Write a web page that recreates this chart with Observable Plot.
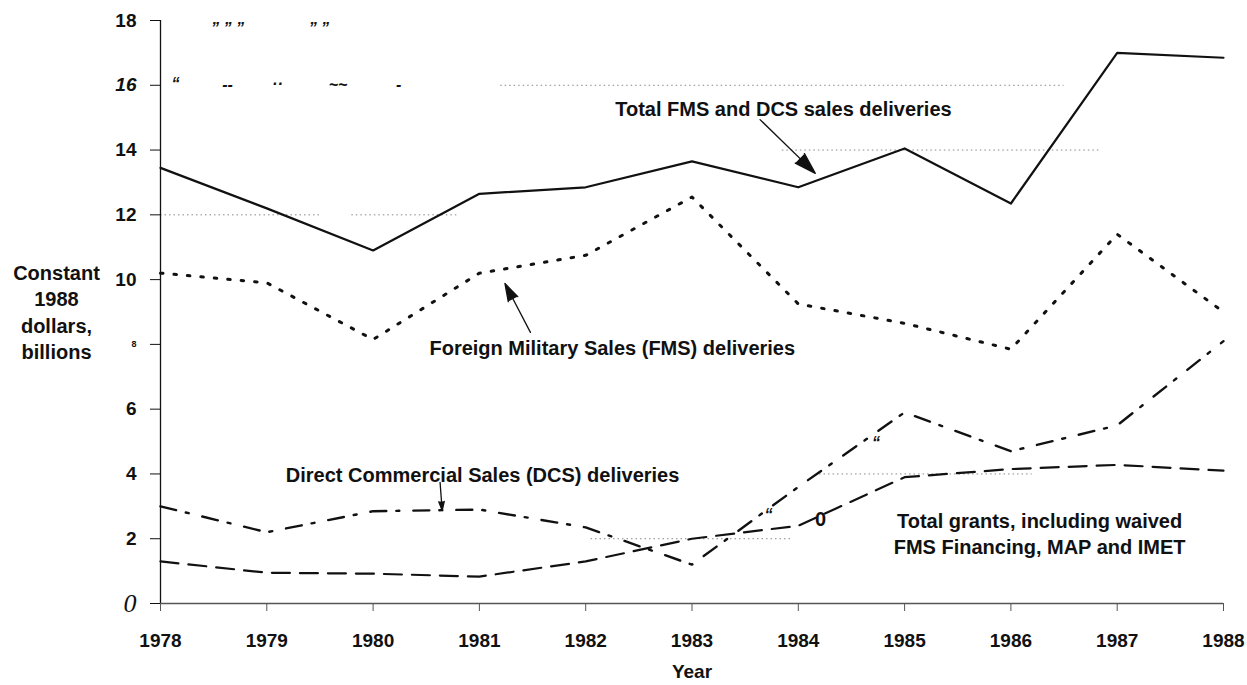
<!DOCTYPE html>
<html><head><meta charset="utf-8">
<script src="https://cdn.jsdelivr.net/npm/d3@7"></script>
<script src="https://cdn.jsdelivr.net/npm/@observablehq/plot@0.6"></script>
<style>
body{margin:0;background:#fff;}
#chart svg{display:block;}
</style></head><body><div id="chart"></div>
<script>
// ---- data (constant 1988 dollars, billions) ----
const years = [1978, 1979, 1980, 1981, 1982, 1983, 1984, 1985, 1986, 1987, 1988];
const totalSales    = [13.45, 12.2, 10.9, 12.65, 12.85, 13.65, 12.85, 14.05, 12.35, 17.0, 16.85];
const fmsDeliveries = [10.2, 9.9, 8.15, 10.2, 10.75, 12.55, 9.25, 8.65, 7.85, 11.4, 9.0];
const dcsDeliveries = [3.0, 2.2, 2.85, 2.9, 2.35, 1.2, 3.6, 5.9, 4.7, 5.5, 8.1];
const totalGrants   = [1.3, 0.95, 0.92, 0.83, 1.3, 2.0, 2.4, 3.9, 4.15, 4.28, 4.1];
const yTicks = [0, 2, 4, 6, 8, 10, 12, 14, 16, 18];

// partial dotted grid lines as seen in the original
const gridValues = [16, 14, 12, 12, 2, 4];
const gridFrom   = [1981.2, 1983.85, 1978, 1979.8, 1982.05, 1984.2];
const gridTo     = [1986.5, 1986.85, 1979.5, 1980.8, 1983.95, 1986.2];

const labelTexts = [
  "Total FMS and DCS sales deliveries",
  "Foreign Military Sales (FMS) deliveries",
  "Direct Commercial Sales (DCS) deliveries",
  "Total grants, including waived\nFMS Financing, MAP and IMET"
];
const labelX = [1983.86, 1982.25, 1981.03, 1986.27];
const labelY = [15.3, 7.93, 4.01, 2.18];

const arrowX1 = [1983.64, 1981.48, 1980.63];
const arrowY1 = [14.94, 8.37, 3.74];
const arrowX2 = [1984.16, 1981.24, 1980.65];
const arrowY2 = [13.28, 9.88, 2.87];

// stray scan marks
const strayTexts = ["\u201d \u201d \u201d", "\u201d \u201d", "\u201c", "--", "\u00b7\u00b7", "~~", "-", "\u201c", "\u201c"];
const strayX = [1978.63, 1979.49, 1978.14, 1978.63, 1979.1, 1979.67, 1980.24, 1983.72, 1984.73];
const strayY = [17.75, 17.75, 16.05, 16.0, 16.05, 16.0, 16.0, 2.75, 4.95];
const strayZero = ["0"];
const strayZeroX = [1984.21];
const strayZeroY = [2.6];

// ---- tables built from the arrays ----
const rows = vals => years.map((yr, i) => ({year: yr, value: vals[i]}));
const grid = gridValues.map((v, i) => ({value: v, from: gridFrom[i], to: gridTo[i]}));
const labels = labelTexts.map((t, i) => ({text: t, x: labelX[i], y: labelY[i]}));
const arrows = arrowX1.map((x, i) => ({x1: x, y1: arrowY1[i], x2: arrowX2[i], y2: arrowY2[i]}));
const strays = strayTexts.map((t, i) => ({text: t, x: strayX[i], y: strayY[i]}));
const zeros = strayZero.map((t, i) => ({text: t, x: strayZeroX[i], y: strayZeroY[i]}));

const ink = "#111";
const plot = Plot.plot({
  width: 1247, height: 685,
  marginLeft: 160, marginRight: 24, marginTop: 20, marginBottom: 82,
  style: {fontFamily: "'Liberation Sans', Arial, sans-serif", fontSize: "19px", fontWeight: "bold", color: ink, background: "#fff"},
  x: {domain: [1978, 1988], label: null},
  y: {domain: [0, 18], label: null},
  marks: [
    Plot.ruleY(grid, {y: "value", x1: "from", x2: "to", stroke: "#888", strokeWidth: 1, strokeDasharray: "1.5,3"}),
    Plot.axisY(yTicks, {tickSize: 10, tickPadding: 14, fontSize: 19, fontWeight: "bold", label: null, stroke: ink}),
    Plot.axisX(years, {tickSize: 8, tickPadding: 22, fontSize: 19, fontWeight: "bold", tickFormat: d => String(d), label: null, stroke: "#555"}),
    Plot.ruleX([1978], {stroke: ink, strokeWidth: 1.3}),
    Plot.ruleY([0], {stroke: "#555", strokeWidth: 1.6}),
    Plot.line(rows(totalGrants), {x: "year", y: "value", stroke: ink, strokeWidth: 2.2, strokeDasharray: "18,10"}),
    Plot.line(rows(dcsDeliveries), {x: "year", y: "value", stroke: ink, strokeWidth: 2.4, strokeDasharray: "16,10,3,14"}),
    Plot.line(rows(fmsDeliveries), {x: "year", y: "value", stroke: ink, strokeWidth: 3, strokeDasharray: "2.5,11"}),
    Plot.line(rows(totalSales), {x: "year", y: "value", stroke: ink, strokeWidth: 2.2}),
    Plot.arrow(arrows, {x1: "x1", y1: "y1", x2: "x2", y2: "y2", stroke: ink, fill: ink, strokeWidth: 1.3, headLength: 26, headAngle: 34}),
    Plot.text(labels, {x: "x", y: "y", text: "text", fontSize: 20, fontWeight: "bold", lineHeight: 1.3, fill: ink}),
    Plot.text(strays, {x: "x", y: "y", text: "text", fontSize: 16, fontStyle: "italic", fontWeight: "bold", fill: ink}),
    Plot.text(zeros, {x: "x", y: "y", text: "text", fontSize: 20, fontWeight: "bold", fill: ink}),
    Plot.text(["Constant\n1988\ndollars,\nbillions"], {frameAnchor: "left", textAnchor: "middle", dx: -104, y: 9.03, lineHeight: 1.32, fontSize: 20, fontWeight: "bold", fill: ink}),
    Plot.text(["Year"], {frameAnchor: "bottom", dy: 74, fontSize: 19, fontWeight: "bold", fill: ink})
  ]
});
document.getElementById("chart").append(plot);

// typographic quirks of the original y tick labels
d3.select(plot).selectAll('[aria-label="y-axis tick label"] text').each(function() {
  const t = this.textContent.trim();
  if (t === "16") d3.select(this).attr("font-style", "italic");
  if (t === "8") d3.select(this).attr("font-size", 9);
  if (t === "0") d3.select(this).attr("font-style", "italic").attr("font-weight", "normal")
    .attr("font-family", "'Liberation Serif', serif").attr("font-size", 26);
});
</script></body></html>
